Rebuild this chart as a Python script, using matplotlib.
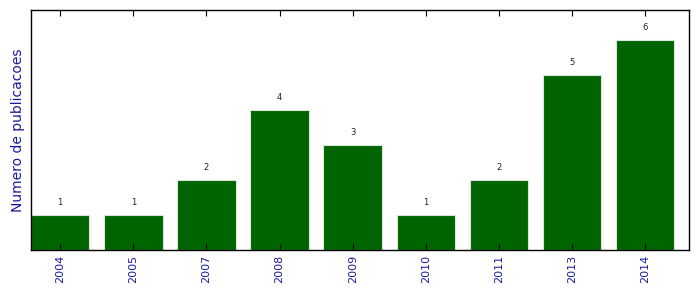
import matplotlib
matplotlib.use('Agg')
import matplotlib.pyplot as plt
import numpy as np

years = ['2004', '2005', '2007', '2008', '2009', '2010', '2011', '2013', '2014']
counts = [1, 1, 2, 4, 3, 1, 2, 5, 6]

fig = plt.figure(figsize=(6.99, 2.92), dpi=100)
ax = fig.add_axes([0.0443, 0.1438, 0.9414, 0.822])

pos = np.arange(len(years))
bars = ax.bar(pos, counts, width=0.8, color='#006400', edgecolor='#d8e8d8', linewidth=0.8)

for x, c in zip(pos, counts):
    ax.text(x, c + 0.24, str(c), ha='center', va='bottom', fontsize=6, color='#222222')

ax.set_xlim(-0.4, 8.6)
ax.set_ylim(0, 6.86)
ax.set_xticks(pos)
ax.set_xticklabels(years, rotation=90, color='#1a1aa0', fontsize=8)
ax.set_yticks([])
ax.tick_params(axis='x', direction='in', length=4, top=True, width=0.8)
ax.set_ylabel('Numero de publicacoes', color='#1a1aa0', fontsize=10)
for s in ax.spines.values():
    s.set_linewidth(1.0)

fig.savefig('out.png', dpi=100)
